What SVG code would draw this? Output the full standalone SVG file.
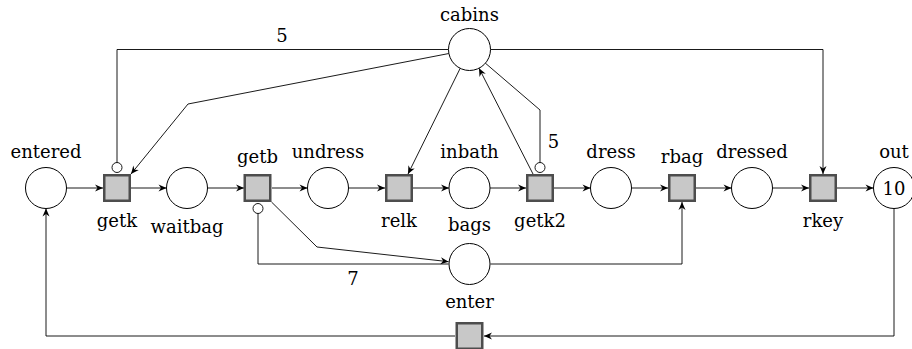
<svg xmlns="http://www.w3.org/2000/svg" width="912" height="349" viewBox="0 0 912 349">
<style>
text{font-family:"DejaVu Serif","Liberation Serif",serif;font-size:18px;fill:#000;text-anchor:middle}
.p{fill:#fff;stroke:#000;stroke-width:1}
.t{fill:#c8c8c8;stroke:#4d4d4d;stroke-width:2.5}
.c path{fill:none;stroke:#000;stroke-width:0.9}
.c .ar{marker-end:url(#a)}
.inh{fill:#fff;stroke:#000;stroke-width:0.9}
</style>
<defs>
<marker id="a" viewBox="-9 -5 10 10" markerWidth="10" markerHeight="10" refX="0" refY="0" orient="auto" markerUnits="userSpaceOnUse">
<path d="M-8,-3.5 L0,0 L-8,3.5 L-5.5,0 z" fill="#000"/>
</marker>
</defs>
<rect width="912" height="349" fill="#fff"/>
<g id="connectors" class="c">
<path class="ar" d="M66.5,188 H103"/>
<path class="ar" d="M131,188 H166.5"/>
<path class="ar" d="M207.5,188 H244"/>
<path class="ar" d="M272,188 H307.5"/>
<path class="ar" d="M348.5,188 H385"/>
<path class="ar" d="M413,188 H449"/>
<path class="ar" d="M490,188 H526"/>
<path class="ar" d="M554,188 H590.5"/>
<path class="ar" d="M631.5,188 H668"/>
<path class="ar" d="M696,188 H731.5"/>
<path class="ar" d="M772.5,188 H809"/>
<path class="ar" d="M837,188 H873.5"/>
<path class="ar" d="M894,208.5 V336 H484"/>
<path class="ar" d="M455,336 H46 V208.5"/>
<path d="M448.5,49.5 H117 V172"/>
<circle class="inh" cx="117" cy="167.5" r="5"/>
<path class="ar" d="M448.9,53.5 L188,104 L131,174"/>
<path class="ar" d="M460.2,68.3 L408,174"/>
<path class="ar" d="M533,174 L479,68.2"/>
<path d="M485.4,63.2 L540,110 V172"/>
<circle class="inh" cx="540" cy="167.5" r="5"/>
<path class="ar" d="M490.5,49.5 H823 V174"/>
<path class="ar" d="M271.5,202 L317,247 L448.6,261.7"/>
<path d="M448.5,264 H258 V204"/>
<circle class="inh" cx="258" cy="208.5" r="5"/>
<path class="ar" d="M490.5,264 H682 V202"/>
<text x="282" y="42">5</text>
<text x="553.5" y="148">5</text>
<text x="353" y="285">7</text>
</g>
<g id="entered"><circle class="p" cx="46" cy="188" r="20.5"/><text x="46" y="158">entered</text></g>
<g id="getk"><rect class="t" x="104.25" y="175.25" width="25.5" height="25.5"/><text x="117" y="227">getk</text></g>
<g id="waitbag"><circle class="p" cx="187" cy="188" r="20.5"/><text x="187" y="233">waitbag</text></g>
<g id="getb"><rect class="t" x="244.75" y="175.25" width="25.5" height="25.5"/><text x="257.5" y="163">getb</text></g>
<g id="undress"><circle class="p" cx="328" cy="188" r="20.5"/><text x="328" y="158">undress</text></g>
<g id="relk"><rect class="t" x="386.25" y="175.25" width="25.5" height="25.5"/><text x="399" y="227">relk</text></g>
<g id="inbath"><circle class="p" cx="469.5" cy="188" r="20.5"/><text x="469.5" y="158">inbath</text></g>
<g id="getk2"><rect class="t" x="527.25" y="175.25" width="25.5" height="25.5"/><text x="540" y="227">getk2</text></g>
<g id="dress"><circle class="p" cx="611" cy="188" r="20.5"/><text x="611" y="158">dress</text></g>
<g id="rbag"><rect class="t" x="669.25" y="175.25" width="25.5" height="25.5"/><text x="682" y="163">rbag</text></g>
<g id="dressed"><circle class="p" cx="752" cy="188" r="20.5"/><text x="752" y="158">dressed</text></g>
<g id="rkey"><rect class="t" x="810.25" y="175.25" width="25.5" height="25.5"/><text x="823" y="227">rkey</text></g>
<g id="out"><circle class="p" cx="894" cy="188" r="20.5"/><text x="894" y="158">out</text><text x="894" y="194.5">10</text></g>
<g id="cabins"><circle class="p" cx="469.5" cy="49.5" r="21"/><text x="469.5" y="21">cabins</text></g>
<g id="bags"><circle class="p" cx="469.5" cy="264" r="20.5"/><text x="469.5" y="231">bags</text></g>
<g id="enter"><rect class="t" x="456.75" y="323.25" width="25.5" height="25.5"/><text x="469.5" y="308">enter</text></g>
</svg>
